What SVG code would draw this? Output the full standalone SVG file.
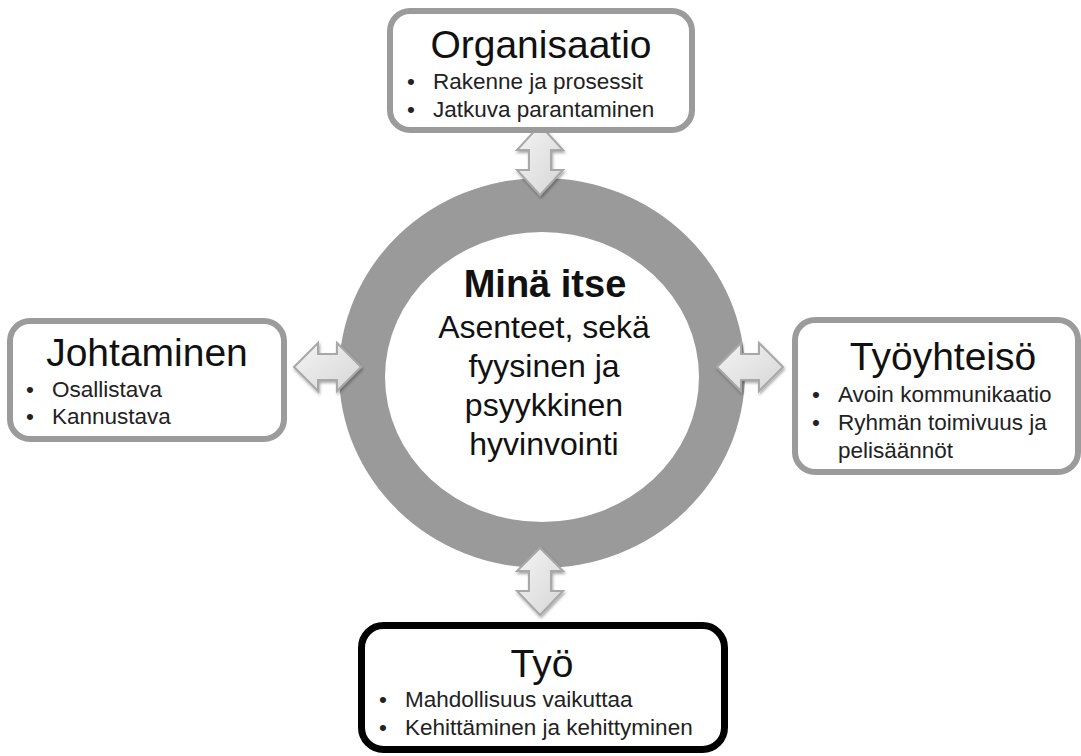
<svg xmlns="http://www.w3.org/2000/svg" width="1081" height="756" viewBox="0 0 1081 756">
<defs>
<linearGradient id="ag" x1="0" y1="0" x2="1" y2="1">
<stop offset="0" stop-color="#f4f4f4"/>
<stop offset="1" stop-color="#d6d6d6"/>
</linearGradient>
<filter id="sh" x="-20%" y="-20%" width="140%" height="140%">
<feGaussianBlur in="SourceAlpha" stdDeviation="1.5"/>
<feOffset dx="1" dy="1.5" result="b"/>
<feComponentTransfer><feFuncA type="linear" slope="0.35"/></feComponentTransfer>
<feMerge><feMergeNode/><feMergeNode in="SourceGraphic"/></feMerge>
</filter>
</defs>
<style>
.box{fill:#fff;stroke:#9b9b9b;stroke-width:6}
.boxb{fill:#fff;stroke:#000;stroke-width:7}
.title{font-family:"Liberation Sans",Arial,sans-serif;font-size:39px;fill:#111;text-anchor:middle}
.item{font-family:"Liberation Sans",Arial,sans-serif;font-size:22.5px;fill:#222}
.ctr{font-family:"Liberation Sans",Arial,sans-serif;font-size:32px;fill:#111;text-anchor:middle}
.ctrb{font-family:"Liberation Sans",Arial,sans-serif;font-size:38px;font-weight:bold;fill:#111;text-anchor:middle}
.arr{fill:url(#ag);stroke:#a8a8a8;stroke-width:2;stroke-linejoin:miter}
</style>
<rect width="1081" height="756" fill="#fff"/>
<g id="mina-itse">
<ellipse cx="542" cy="373" rx="203" ry="195" fill="#9a9a9a"/>
<ellipse cx="542" cy="377" rx="157" ry="145" fill="#fff"/>
<text class="ctrb" x="545" y="297">Minä itse</text>
<text class="ctr" x="544" y="338">Asenteet, sekä</text>
<text class="ctr" x="544" y="377">fyysinen ja</text>
<text class="ctr" x="544" y="416">psyykkinen</text>
<text class="ctr" x="544" y="455">hyvinvointi</text>
</g>
<g id="connectors" filter="url(#sh)">
<polygon class="arr" points="540,125 563,150 551,150 551,170 563,170 540,195 517,170 529,170 529,150 517,150"/>
<polygon class="arr" points="540,548 563,571 551,571 551,591 563,591 540,615 517,591 529,591 529,571 517,571"/>
<polygon class="arr" points="294,367 318,343 318,354 337,354 337,343 361,367 337,391 337,380 318,380 318,391"/>
<polygon class="arr" points="717,367 741,343 741,354 759,354 759,343 783,367 759,391 759,380 741,380 741,391"/>
</g>
<g id="organisaatio">
<rect class="box" x="390" y="11" width="302" height="119" rx="20"/>
<text class="title" x="541" y="58">Organisaatio</text>
<text class="item" x="407" y="89">•</text>
<text class="item" x="433" y="89">Rakenne ja prosessit</text>
<text class="item" x="407" y="117">•</text>
<text class="item" x="433" y="117">Jatkuva parantaminen</text>
</g>
<g id="johtaminen">
<rect class="box" x="10" y="321" width="274" height="118" rx="20"/>
<text class="title" x="147" y="366">Johtaminen</text>
<text class="item" x="26" y="397">•</text>
<text class="item" x="52" y="397">Osallistava</text>
<text class="item" x="26" y="424">•</text>
<text class="item" x="52" y="424">Kannustava</text>
</g>
<g id="tyoyhteiso">
<rect class="box" x="795" y="320" width="283" height="152" rx="20"/>
<text class="title" x="943" y="370">Työyhteisö</text>
<text class="item" x="812" y="402">•</text>
<text class="item" x="838" y="402">Avoin kommunikaatio</text>
<text class="item" x="812" y="430">•</text>
<text class="item" x="838" y="430">Ryhmän toimivuus ja</text>
<text class="item" x="838" y="458">pelisäännöt</text>
</g>
<g id="tyo">
<rect class="boxb" x="361.5" y="625.5" width="363" height="124" rx="22"/>
<text class="title" x="542" y="677">Työ</text>
<text class="item" x="379" y="707">•</text>
<text class="item" x="405" y="707">Mahdollisuus vaikuttaa</text>
<text class="item" x="379" y="735">•</text>
<text class="item" x="405" y="735">Kehittäminen ja kehittyminen</text>
</g>
</svg>
